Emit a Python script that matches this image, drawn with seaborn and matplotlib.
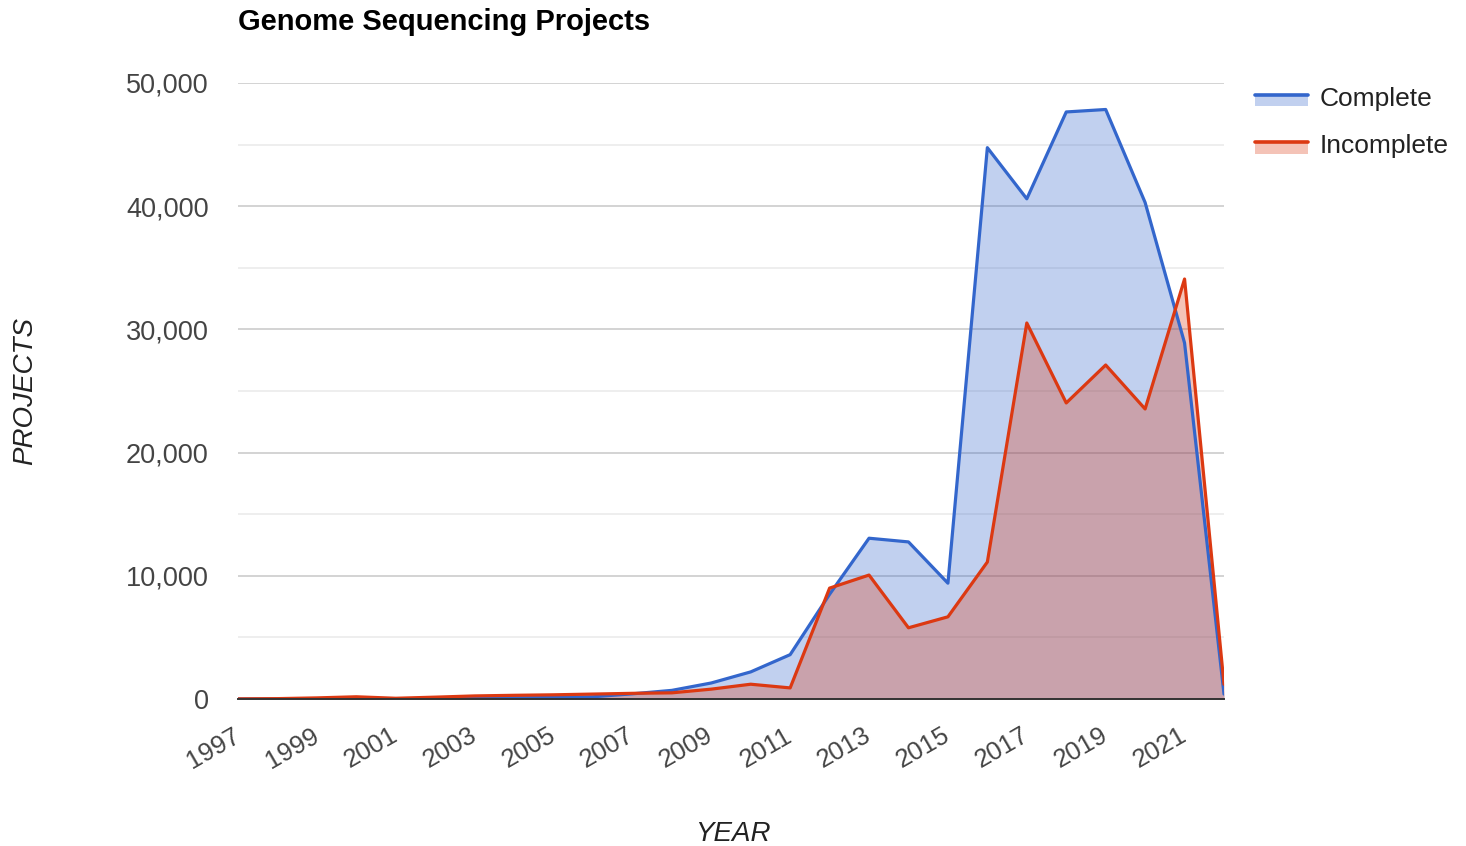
import numpy as np
import pandas as pd
import matplotlib
matplotlib.use("Agg")
import matplotlib.pyplot as plt
from matplotlib.legend_handler import HandlerBase
from matplotlib.patches import Rectangle
from matplotlib.lines import Line2D
from matplotlib.ticker import FuncFormatter, MultipleLocator
import seaborn as sns

# Yearly counts of genome sequencing projects
years = list(range(1997, 2023))
complete = [0, 0, 20, 30, 20, 50, 80, 100, 120, 180, 420, 700, 1300, 2200,
            3600, 8500, 13050, 12750, 9400, 44750, 40600, 47650, 47850,
            40300, 28900, 400]
incomplete = [10, 30, 90, 180, 60, 150, 250, 300, 340, 400, 460, 500, 800,
              1200, 900, 9000, 10060, 5780, 6670, 11120, 30520, 24030, 27110,
              23540, 34090, 1200]
series_names = ["Complete", "Incomplete"]
colors = ["#3366cc", "#dc3912"]
x_ticks = list(range(1997, 2022, 2))

df = pd.DataFrame({"Year": years, "Complete": complete, "Incomplete": incomplete})
long_df = df.melt(id_vars="Year", var_name="Status", value_name="Projects")

sns.set_theme(style="white")
plt.rcParams["font.family"] = ["Liberation Sans", "DejaVu Sans"]

W, H = 1466, 846
fig = plt.figure(figsize=(W / 100, H / 100), dpi=100)
ax = fig.add_axes([238 / W, 1 - 699 / H, (1224 - 238) / W, (699 - 83) / H])

# translucent areas under each series
for name, col in zip(series_names, colors):
    ax.fill_between(df["Year"], 0, df[name], color=col, alpha=0.3, linewidth=0, zorder=2)

sns.lineplot(data=long_df, x="Year", y="Projects", hue="Status",
             hue_order=series_names, palette=colors, linewidth=2.3,
             legend=False, ax=ax, zorder=3)

ax.set_xlim(1997, 2022)
ax.set_ylim(0, 50000)
ax.yaxis.set_major_locator(MultipleLocator(10000))
ax.yaxis.set_minor_locator(MultipleLocator(5000))
ax.yaxis.set_major_formatter(FuncFormatter(lambda v, p: f"{int(v):,}"))
ax.grid(axis="y", which="major", color="#cccccc", linewidth=1.2, zorder=0)
ax.grid(axis="y", which="minor", color="#ebebeb", linewidth=1.2, zorder=0)
ax.grid(axis="x", visible=False)
ax.set_axisbelow(True)
for s in ["top", "right", "left"]:
    ax.spines[s].set_visible(False)
ax.spines["bottom"].set_color("#333333")
ax.spines["bottom"].set_linewidth(1.4)
ax.spines["bottom"].set_zorder(4)

ax.set_xticks(x_ticks)
ax.set_xticklabels([str(t) for t in x_ticks], rotation=30, ha="right",
                   va="center", rotation_mode="anchor")
ax.tick_params(axis="x", length=0, pad=25, labelsize=18.5, labelcolor="#444444")
ax.tick_params(axis="y", which="both", length=0, pad=21, labelsize=19.5,
               labelcolor="#444444")

ax.set_xlabel("YEAR", fontsize=20, fontstyle="italic", color="#222222")
ax.xaxis.set_label_coords((733 - 238) / (1224 - 238), -(834 - 699) / (699 - 83))
ax.xaxis.label.set_va("center")
ax.set_ylabel("PROJECTS", fontsize=20, fontstyle="italic", color="#222222")
ax.yaxis.set_label_coords(-(238 - 25) / (1224 - 238), (699 - 391) / (699 - 83))
ax.yaxis.label.set_va("center")
fig.text(238 / W, 1 - 22 / H, "Genome Sequencing Projects", fontsize=21,
         fontweight="bold", color="#000000", ha="left", va="center")


class AreaLineHandler(HandlerBase):
    def create_artists(self, legend, orig_handle, xdescent, ydescent,
                       width, height, fontsize, trans):
        col = orig_handle.get_color()
        top = -ydescent + height * 0.6
        band = height * 0.62
        rect = Rectangle((-xdescent, top - band), width, band, facecolor=col,
                         alpha=0.3, edgecolor="none", transform=trans)
        line = Line2D([-xdescent, -xdescent + width], [top, top],
                      color=col, linewidth=2.6, transform=trans)
        return [rect, line]


handles = [Line2D([], [], color=c) for c in colors]
leg = ax.legend(handles, series_names, handler_map={Line2D: AreaLineHandler()},
                loc="upper left", bbox_to_anchor=(1255 / W, 1 - 87 / H),
                bbox_transform=fig.transFigure, frameon=False, borderpad=0,
                borderaxespad=0, fontsize=19, handlelength=2.0, handleheight=0.7,
                handletextpad=0.45, labelspacing=0.88)
for t in leg.get_texts():
    t.set_color("#222222")

fig.savefig("out.png", dpi=100)
